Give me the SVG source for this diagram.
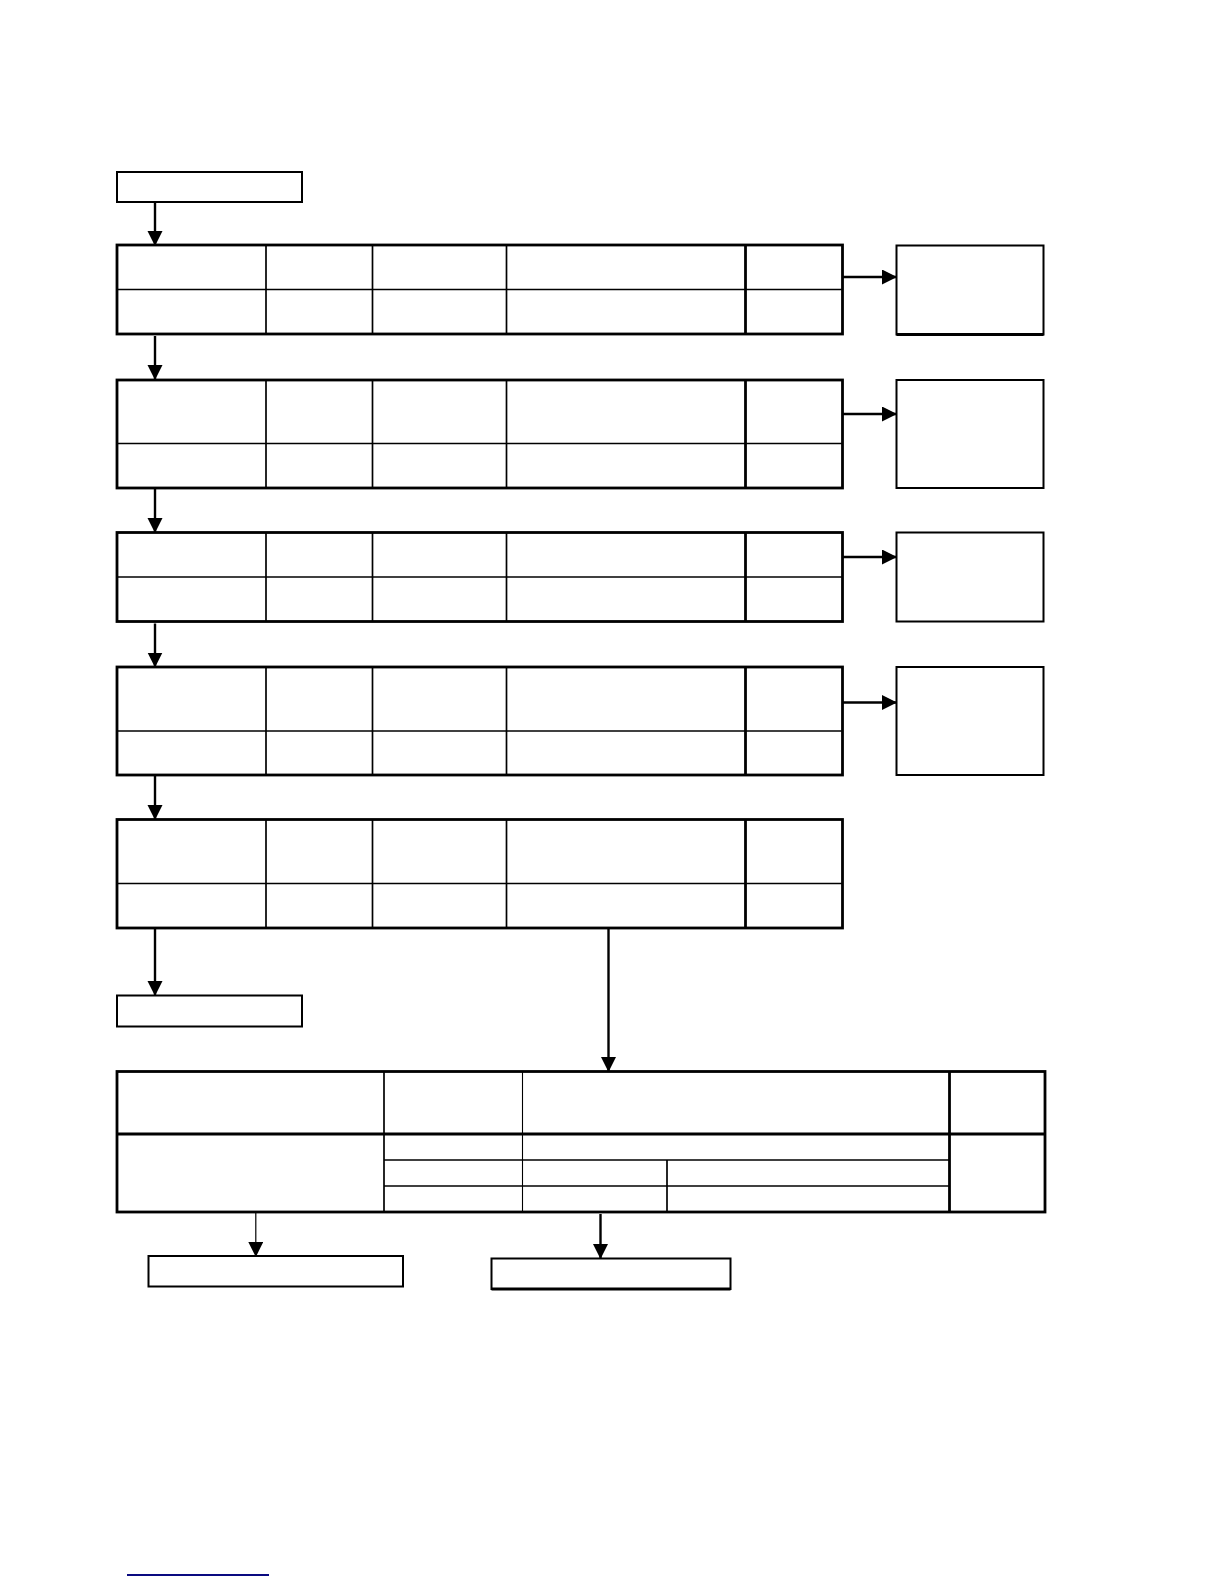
<svg xmlns="http://www.w3.org/2000/svg" width="1224" height="1584" viewBox="0 0 1224 1584">
<style>
.bg{fill:#fff}
.box{fill:#fff;stroke:#000;stroke-width:2}
.outer{fill:#fff;stroke:#000;stroke-width:2.8}
.in{stroke:#000;stroke-width:1.7;fill:none}
.thin{stroke:#000;stroke-width:1.1;fill:none}
.thick{stroke:#000;stroke-width:2.8;fill:none}
.con{stroke:#000;stroke-width:2.4;fill:none;marker-end:url(#ah)}
.conthin{stroke:#000;stroke-width:1.2;fill:none;marker-end:url(#ah)}
</style>
<defs>
<marker id="ah" markerUnits="userSpaceOnUse" markerWidth="16" markerHeight="16" refX="14" refY="7.5" orient="auto">
<path d="M0,0 L15,7.5 L0,15 z" fill="#000"/>
</marker>
</defs>
<rect class="bg" x="0" y="0" width="1224" height="1584"/>

<g id="start">
<rect class="box" x="117" y="172" width="185" height="30"/>
</g>

<g id="table1">
<rect class="outer" x="117" y="245" width="725.5" height="89"/>
<line class="in" x1="117" y1="289.5" x2="842.5" y2="289.5"/>
<line class="in" x1="266" y1="245" x2="266" y2="334"/>
<line class="in" x1="372.5" y1="245" x2="372.5" y2="334"/>
<line class="in" x1="506.5" y1="245" x2="506.5" y2="334"/>
<line class="thick" x1="745.5" y1="245" x2="745.5" y2="334"/>
</g>
<g id="side1">
<rect class="box" x="896.5" y="245.5" width="147" height="89"/>
<line class="thick" x1="896.5" y1="334.5" x2="1043.5" y2="334.5"/>
</g>

<g id="table2">
<rect class="outer" x="117" y="380" width="725.5" height="108"/>
<line class="in" x1="117" y1="443.5" x2="842.5" y2="443.5"/>
<line class="in" x1="266" y1="380" x2="266" y2="488"/>
<line class="in" x1="372.5" y1="380" x2="372.5" y2="488"/>
<line class="in" x1="506.5" y1="380" x2="506.5" y2="488"/>
<line class="thick" x1="745.5" y1="380" x2="745.5" y2="488"/>
</g>
<g id="side2">
<rect class="box" x="896.5" y="380" width="147" height="108"/>
</g>

<g id="table3">
<rect class="outer" x="117" y="532.5" width="725.5" height="89"/>
<line class="in" x1="117" y1="577" x2="842.5" y2="577"/>
<line class="in" x1="266" y1="532.5" x2="266" y2="621.5"/>
<line class="in" x1="372.5" y1="532.5" x2="372.5" y2="621.5"/>
<line class="in" x1="506.5" y1="532.5" x2="506.5" y2="621.5"/>
<line class="thick" x1="745.5" y1="532.5" x2="745.5" y2="621.5"/>
</g>
<g id="side3">
<rect class="box" x="896.5" y="532.5" width="147" height="89"/>
</g>

<g id="table4">
<rect class="outer" x="117" y="667" width="725.5" height="108"/>
<line class="in" x1="117" y1="731" x2="842.5" y2="731"/>
<line class="in" x1="266" y1="667" x2="266" y2="775"/>
<line class="in" x1="372.5" y1="667" x2="372.5" y2="775"/>
<line class="in" x1="506.5" y1="667" x2="506.5" y2="775"/>
<line class="thick" x1="745.5" y1="667" x2="745.5" y2="775"/>
</g>
<g id="side4">
<rect class="box" x="896.5" y="667" width="147" height="108"/>
</g>

<g id="table5">
<rect class="outer" x="117" y="819.5" width="725.5" height="108.5"/>
<line class="in" x1="117" y1="883.5" x2="842.5" y2="883.5"/>
<line class="in" x1="266" y1="819.5" x2="266" y2="928"/>
<line class="in" x1="372.5" y1="819.5" x2="372.5" y2="928"/>
<line class="in" x1="506.5" y1="819.5" x2="506.5" y2="928"/>
<line class="thick" x1="745.5" y1="819.5" x2="745.5" y2="928"/>
</g>

<g id="end-left">
<rect class="box" x="117" y="995.5" width="185" height="31"/>
</g>

<g id="bigtable">
<rect class="outer" x="117" y="1071.5" width="928" height="140.5"/>
<line class="thick" x1="117" y1="1134" x2="1045" y2="1134"/>
<line class="in" x1="384" y1="1071.5" x2="384" y2="1212"/>
<line class="thin" x1="522.5" y1="1071.5" x2="522.5" y2="1212"/>
<line class="thick" x1="949.5" y1="1071.5" x2="949.5" y2="1212"/>
<line class="in" x1="384" y1="1160" x2="949.5" y2="1160"/>
<line class="in" x1="384" y1="1186" x2="949.5" y2="1186"/>
<line class="in" x1="667" y1="1160" x2="667" y2="1212"/>
</g>

<g id="out-left">
<rect class="box" x="148.5" y="1256" width="254.5" height="30.5"/>
</g>
<g id="out-right">
<rect class="box" x="491.5" y="1258.5" width="239" height="30.5"/>
<line class="thick" x1="491.5" y1="1289" x2="730.5" y2="1289"/>
</g>

<g id="connectors">
<line class="con" x1="155" y1="202" x2="155" y2="245"/>
<line class="con" x1="155" y1="336" x2="155" y2="379"/>
<line class="con" x1="155" y1="489" x2="155" y2="532"/>
<line class="con" x1="155" y1="623.5" x2="155" y2="666.5"/>
<line class="con" x1="155" y1="776" x2="155" y2="819"/>
<line class="con" x1="155" y1="928" x2="155" y2="995"/>
<line class="con" x1="608.5" y1="928" x2="608.5" y2="1071"/>
<line class="con" x1="842.5" y1="277" x2="896" y2="277"/>
<line class="con" x1="842.5" y1="414" x2="896" y2="414"/>
<line class="con" x1="842.5" y1="557" x2="896" y2="557"/>
<line class="con" x1="842.5" y1="702.5" x2="896" y2="702.5"/>
<line class="conthin" x1="255.8" y1="1212" x2="255.8" y2="1256"/>
<line class="con" x1="600.5" y1="1214" x2="600.5" y2="1258"/>
</g>

<line x1="127" y1="1575" x2="269" y2="1575" stroke="#0a0a80" stroke-width="2"/>
</svg>
